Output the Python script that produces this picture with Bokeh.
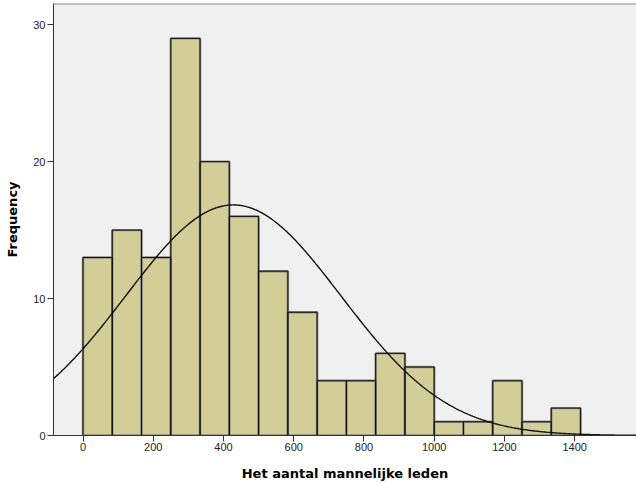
import numpy as np
from bokeh.plotting import figure
from bokeh.models import Range1d, FixedTicker, Span
from bokeh.embed import file_html
from bokeh.resources import INLINE

# Histogram data
bin_start = 0.0
bin_width = 1000.0 / 12.0
counts = [13, 15, 13, 29, 20, 16, 12, 9, 4, 4, 6, 5, 1, 1, 4, 1, 2]
x_ticks = [0, 200, 400, 600, 800, 1000, 1200, 1400]
y_ticks = [0, 10, 20, 30]

# Normal curve parameters (fitted curve shown on the chart)
MEAN = 428.0
SD = 306.0
N = sum(counts)

X_START, X_END = -84, 1576
Y_END = 31.55

lefts = [bin_start + i * bin_width for i in range(len(counts))]
rights = [l + bin_width for l in lefts]

p = figure(width=636, height=483, output_backend="svg", toolbar_location=None,
           x_range=Range1d(X_START, X_END), y_range=Range1d(0, Y_END),
           min_border_left=53, min_border_right=0, min_border_top=3,
           min_border_bottom=47)
p.border_fill_color = "white"
p.background_fill_color = "#F0F0F0"
p.outline_line_color = None
p.grid.visible = False

# bars: soft gray halo then crisp outline
p.quad(left=lefts, right=rights, bottom=0, top=counts,
       fill_color="#D3CE98", line_color="#8a8a80", line_width=2.4)
p.quad(left=lefts, right=rights, bottom=0, top=counts,
       fill_color=None, line_color="#111111", line_width=1)

xs = np.linspace(X_START, X_END, 600)
ys = N * bin_width / (SD * np.sqrt(2 * np.pi)) * np.exp(-0.5 * ((xs - MEAN) / SD) ** 2)
p.line(xs, ys, line_color="#111111", line_width=1.4)

p.add_layout(Span(location=Y_END, dimension="width", line_color="#8c8c8c", line_width=2))

for ax in (p.xaxis[0], p.yaxis[0]):
    ax.axis_line_color = "#333333"
    ax.axis_line_width = 1
    ax.major_tick_line_color = "#333333"
    ax.major_tick_out = 6
    ax.major_tick_in = 0
    ax.minor_tick_line_color = None
    ax.major_label_text_font = "Liberation Sans"
    ax.major_label_text_font_size = "11px"
    ax.major_label_text_color = "#222222"
    ax.axis_label_text_font = "DejaVu Sans"
    ax.axis_label_text_font_size = "13px"
    ax.axis_label_text_font_style = "bold"
    ax.axis_label_text_color = "#000000"

p.xaxis[0].ticker = FixedTicker(ticks=x_ticks)
p.yaxis[0].ticker = FixedTicker(ticks=y_ticks)
p.xaxis[0].axis_label = "Het aantal mannelijke leden"
p.yaxis[0].axis_label = "Frequency"
p.xaxis[0].major_label_standoff = 1
p.yaxis[0].major_label_standoff = 2
p.xaxis[0].axis_label_standoff = 12
p.yaxis[0].axis_label_standoff = 10

open("out.html", "w").write(file_html(p, INLINE))
